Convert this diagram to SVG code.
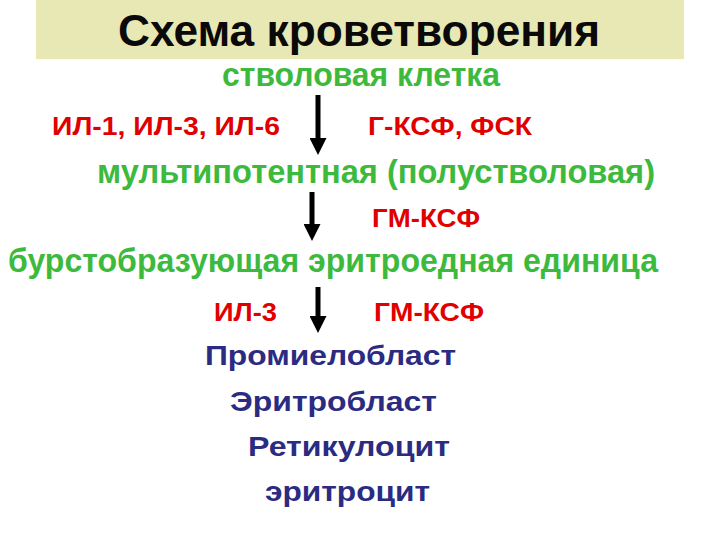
<svg xmlns="http://www.w3.org/2000/svg" width="720" height="540" viewBox="0 0 720 540">
<style>
text{font-family:"Liberation Sans",Arial,sans-serif;font-weight:bold}
.t{font-size:44px;fill:#0a0a0a}
.g{font-size:33px;fill:#3dba3d}
.r{font-size:25px;fill:#e00000}
.b{font-size:28px;fill:#2b2b82}
.ar{stroke:#000;stroke-width:5;fill:none}
</style>
<defs>
<marker id="ah" viewBox="0 0 10 10" refX="0" refY="5" markerWidth="3.4" markerHeight="3.4" orient="auto" markerUnits="strokeWidth">
<path d="M0,0 L10,5 L0,10 Z" fill="#000"/>
</marker>
</defs>
<rect width="720" height="540" fill="#fff"/>
<g id="title">
<rect x="36" y="0" width="648" height="59" fill="#e8e8b4"/>
<text class="t" x="118" y="46" textLength="482" lengthAdjust="spacingAndGlyphs">Схема кроветворения</text>
</g>
<g id="n-stem"><text class="g" x="222" y="86" textLength="278" lengthAdjust="spacingAndGlyphs">стволовая клетка</text></g>
<g id="l-il1"><text class="r" x="52" y="135" textLength="228" lengthAdjust="spacingAndGlyphs">ИЛ-1, ИЛ-3, ИЛ-6</text></g>
<g id="l-gcsf"><text class="r" x="368" y="135" textLength="164" lengthAdjust="spacingAndGlyphs">Г-КСФ, ФСК</text></g>
<g id="n-multi"><text class="g" x="97" y="183" textLength="558" lengthAdjust="spacingAndGlyphs">мультипотентная (полустволовая)</text></g>
<g id="l-gm1"><text class="r" x="372" y="227" textLength="108" lengthAdjust="spacingAndGlyphs">ГМ-КСФ</text></g>
<g id="n-burst"><text class="g" x="8" y="272" textLength="650" lengthAdjust="spacingAndGlyphs">бурстобразующая эритроедная единица</text></g>
<g id="l-il3"><text class="r" x="214" y="321" textLength="63" lengthAdjust="spacingAndGlyphs">ИЛ-3</text></g>
<g id="l-gm2"><text class="r" x="374" y="321" textLength="110" lengthAdjust="spacingAndGlyphs">ГМ-КСФ</text></g>
<g id="n-promyelo"><text class="b" x="205" y="365" textLength="251" lengthAdjust="spacingAndGlyphs">Промиелобласт</text></g>
<g id="n-erythroblast"><text class="b" x="230" y="411" textLength="207" lengthAdjust="spacingAndGlyphs">Эритробласт</text></g>
<g id="n-retic"><text class="b" x="248" y="456" textLength="202" lengthAdjust="spacingAndGlyphs">Ретикулоцит</text></g>
<g id="n-erythrocyte"><text class="b" x="265" y="501" textLength="165" lengthAdjust="spacingAndGlyphs">эритроцит</text></g>
<g id="connectors">
<line class="ar" x1="318" y1="95" x2="318" y2="138" marker-end="url(#ah)"/>
<line class="ar" x1="312" y1="192" x2="312" y2="224" marker-end="url(#ah)"/>
<line class="ar" x1="318" y1="287" x2="318" y2="316" marker-end="url(#ah)"/>
</g>
</svg>
